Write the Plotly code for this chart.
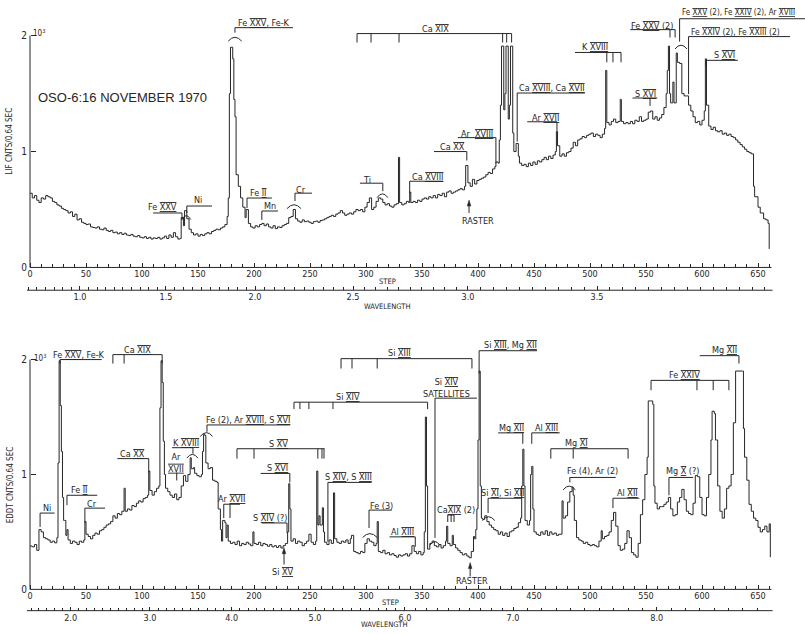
import plotly.graph_objects as go

# ---------------- spectra (scan step vs counts per 0.64 s) ----------------
LIF_STEP = [
    0, 2, 4, 6, 8, 10, 12, 14, 16, 18,
    20, 22, 24, 26, 28, 30, 32, 34, 36, 38,
    40, 42, 44, 46, 48, 50, 52, 54, 56, 58,
    60, 62, 64, 66, 68, 70, 72, 74, 76, 78,
    80, 82, 84, 86, 88, 90, 92, 94, 96, 98,
    100, 102, 104, 106, 108, 110, 112, 114, 116, 118,
    120, 122, 124, 126, 128, 130, 132, 134, 135, 137,
    138, 140, 142, 144, 146, 148, 150, 152, 154, 156,
    158, 160, 162, 164, 166, 168, 170, 172, 174, 176,
    177, 178, 179, 181, 182, 183, 184, 186, 188, 190,
    192, 193, 195, 197, 199, 201, 203, 205, 207, 209,
    211, 213, 215, 217, 219, 221, 223, 225, 227, 229,
    231, 233, 235, 237, 239, 241, 243, 245, 247, 249,
    251, 253, 255, 257, 259, 261, 263, 265, 267, 269,
    271, 273, 275, 277, 279, 281, 283, 285, 287, 289,
    291, 293, 295, 297, 299, 301, 303, 305, 307, 309,
    311, 313, 315, 317, 319, 321, 323, 325, 327, 329,
    330, 332, 334, 336, 338, 339, 340, 342, 344, 346,
    348, 350, 352, 354, 356, 358, 360, 362, 364, 366,
    368, 370, 372, 374, 376, 378, 380, 382, 384, 386,
    388, 389, 391, 393, 395, 397, 399, 401, 403, 405,
    407, 409, 411, 413, 415, 416, 418, 419, 420, 421,
    423, 424, 425, 427, 428, 429, 431, 432, 434, 436,
    437, 439, 441, 443, 445, 447, 449, 451, 453, 455,
    457, 459, 461, 463, 465, 467, 469, 470, 471, 473,
    475, 477, 479, 481, 483, 485, 487, 489, 491, 493,
    495, 497, 499, 501, 503, 505, 507, 509, 511, 513,
    514, 515, 517, 519, 521, 523, 525, 527, 528, 530,
    532, 534, 536, 538, 540, 542, 544, 546, 548, 550,
    552, 554, 556, 558, 560, 562, 564, 566, 568, 569,
    570, 571, 572, 574, 575, 577, 578, 580, 582, 584,
    586, 588, 590, 592, 594, 596, 598, 600, 602, 603,
    604, 606, 608, 610, 612, 614, 616, 618, 620, 622,
    624, 626, 628, 630, 632, 634, 636, 638, 640, 642,
    644, 646, 647, 650, 652, 655, 657, 659, 660,
]
LIF_CNTS = [
    640, 600, 620, 580, 560, 600, 590, 620, 610, 600,
    570, 560, 540, 530, 510, 500, 490, 470, 480, 440,
    460, 410, 420, 390, 380, 370, 375, 350, 345, 340,
    350, 330, 325, 340, 320, 310, 320, 300, 305, 290,
    300, 285, 295, 280, 275, 285, 270, 265, 275, 260,
    255, 265, 250, 260, 245, 255, 250, 260, 245, 255,
    270, 250, 280, 260, 300, 265, 245, 250, 430, 360,
    490, 420, 330, 300, 280, 290, 270, 285, 275, 290,
    300, 290, 310, 320, 330, 325, 340, 350, 370, 440,
    600, 1500, 1900, 1800, 1450, 1300, 800, 700, 600, 520,
    430, 500, 380, 350, 340, 360, 350, 370, 380, 360,
    375, 350, 340, 360, 335, 350, 345, 360, 370, 380,
    430, 440, 500, 420, 400, 390, 410, 395, 400, 390,
    380, 395, 400, 390, 405, 410, 420, 430, 440, 450,
    440, 460, 470, 490, 470, 450, 460, 470, 460, 480,
    500, 490, 500, 480, 520, 560, 600, 500, 520, 570,
    600, 590, 560, 540, 550, 530, 520, 540, 550, 950,
    560, 540, 550, 570, 560, 650, 560, 570, 560, 580,
    570, 590, 600, 590, 610, 600, 620, 600, 630, 620,
    640, 610, 650, 660, 640, 650, 660, 670, 680, 670,
    700, 880, 730, 700, 760, 720, 750, 760, 770, 780,
    800, 820, 810, 850, 870, 910, 900, 1100, 1400, 1910,
    1360, 1500, 1910, 1280, 1400, 1910, 1160, 1000, 1070, 960,
    900, 880, 890, 870, 900, 880, 910, 890, 920, 910,
    930, 950, 930, 960, 940, 970, 1000, 1175, 1050, 960,
    980, 960, 990, 1000, 1030, 1080, 1050, 1100, 1110, 1130,
    1120, 1140, 1150, 1160, 1130, 1150, 1140, 1120, 1150, 1200,
    1700, 1250, 1230, 1260, 1280, 1250, 1260, 1450, 1260, 1240,
    1250, 1240, 1260, 1240, 1270, 1260, 1300, 1260, 1270, 1280,
    1340, 1350, 1280, 1300, 1270, 1290, 1320, 1380, 1500, 1700,
    1910, 1500, 1420, 1600, 1420, 1850, 1770, 1760, 1500, 1480,
    1480, 1400, 1350, 1300, 1250, 1260, 1230, 1270, 1350, 1800,
    1400, 1220, 1190, 1210, 1180, 1170, 1180, 1150, 1160, 1140,
    1150, 1130, 1120, 1100, 1080, 1060, 1040, 1020, 1000, 990,
    980, 700, 610, 520, 470, 420, 410, 380, 160,
]

EDDT_STEP = [
    0, 2, 4, 6, 8, 10, 12, 14, 16, 18,
    20, 22, 24, 25, 26, 27, 28, 29, 30, 31,
    32, 33, 34, 36, 38, 40, 42, 44, 46, 48,
    49, 50, 52, 54, 56, 58, 60, 62, 64, 66,
    68, 70, 72, 74, 76, 78, 80, 82, 84, 85,
    87, 89, 91, 93, 95, 97, 99, 101, 103, 105,
    106, 107, 109, 111, 113, 115, 116, 117, 118, 119,
    120, 121, 123, 125, 127, 129, 131, 133, 135, 137,
    139, 141, 143, 144, 146, 147, 149, 151, 153, 154,
    155, 156, 157, 159, 161, 163, 165, 167, 168, 170,
    171, 172, 174, 175, 176, 177, 179, 181, 183, 185,
    187, 189, 191, 193, 195, 197, 199, 200, 202, 204,
    206, 208, 210, 212, 214, 216, 218, 220, 222, 224,
    226, 228, 230, 231, 232, 233, 235, 237, 239, 241,
    243, 245, 247, 249, 251, 253, 255, 256, 257, 258,
    259, 261, 262, 263, 265, 267, 269, 271, 272, 274,
    276, 278, 280, 282, 284, 286, 287, 289, 291, 293,
    295, 297, 299, 301, 303, 305, 307, 309, 310, 311,
    313, 315, 317, 319, 321, 323, 325, 327, 329, 331,
    333, 335, 337, 339, 341, 343, 345, 347, 349, 351,
    352, 353, 354, 355, 357, 359, 361, 363, 365, 367,
    369, 371, 372, 373, 375, 377, 378, 380, 382, 384,
    386, 388, 390, 392, 394, 396, 397, 398, 399, 400,
    401, 402, 403, 404, 406, 408, 410, 412, 414, 416,
    418, 420, 422, 424, 426, 428, 430, 432, 434, 436,
    438, 439, 440, 441, 442, 444, 446, 447, 448, 449,
    450, 452, 454, 456, 458, 460, 462, 464, 466, 468,
    470, 472, 474, 475, 476, 478, 480, 482, 484, 485,
    486, 488, 490, 492, 494, 496, 498, 500, 502, 504,
    506, 508, 510, 511, 513, 515, 517, 519, 521, 523,
    525, 527, 529, 531, 533, 535, 537, 539, 541, 543,
    545, 547, 549, 551, 552, 554, 556, 557, 558, 560,
    562, 564, 566, 568, 570, 572, 574, 576, 578, 580,
    582, 584, 586, 588, 590, 592, 594, 596, 598, 600,
    602, 604, 606, 608, 609, 611, 612, 614, 616, 618,
    620, 622, 624, 626, 628, 630, 636, 637, 638, 640,
    642, 644, 646, 648, 650, 652, 654, 656, 658, 660,
    661,
]
EDDT_CNTS = [
    377, 370, 390, 340, 520, 500, 450, 440, 430, 410,
    420, 405, 450, 1100, 1990, 1600, 1200, 800, 600, 600,
    470, 520, 430, 400, 420, 410, 390, 420, 410, 430,
    590, 480, 460, 440, 470, 490, 480, 510, 520, 540,
    560, 570, 590, 640, 620, 660, 650, 680, 880, 680,
    700, 690, 730, 720, 750, 770, 760, 790, 800, 820,
    1030, 860, 820, 850, 880, 900, 1580, 1990, 1800, 1290,
    1000, 880, 850, 820, 800, 830, 780, 800, 900, 990,
    940, 1000, 1145, 1050, 1060, 1010, 990, 980, 1000, 1200,
    1350, 1340, 1100, 1050, 1060, 950, 940, 930, 700, 520,
    420, 600, 580, 450, 560, 420, 400, 410, 390, 420,
    380, 400, 390, 410, 395, 380, 500, 400, 390, 410,
    380, 400, 390, 375, 390, 370, 380, 365, 380, 360,
    380, 400, 500, 920, 700, 420, 440, 400, 420, 410,
    380, 400, 420, 480, 410, 390, 420, 1030, 560, 640,
    560, 710, 500, 410, 390, 430, 400, 840, 440, 410,
    400, 420, 410, 430, 400, 440, 470, 330, 320, 310,
    330, 320, 400, 440, 420, 410, 380, 400, 590, 330,
    320, 340, 310, 320, 300, 310, 295, 280, 300, 290,
    300, 310, 290, 310, 380, 330, 310, 330, 300, 320,
    500, 1500, 900, 350, 400, 420, 380, 370, 390, 360,
    380, 420, 550, 400, 380, 470, 390, 360, 340, 320,
    300, 310, 290, 275, 330, 460, 440, 520, 700, 1300,
    1900, 900, 620, 610, 640, 590, 560, 540, 520, 510,
    480, 500, 470, 490, 460, 500, 510, 530, 540, 580,
    620, 900, 1220, 900, 600, 560, 600, 1000, 1070, 700,
    500, 480, 470, 500, 480, 510, 470, 500, 480, 490,
    470, 480, 480, 770, 620, 640, 760, 850, 890, 820,
    600, 450, 430, 420, 400, 410, 390, 380, 390, 380,
    370, 420, 510, 440, 460, 470, 500, 600, 670, 550,
    380, 340, 350, 400, 510, 450, 320, 300, 280, 400,
    650, 780, 1000, 1150, 1640, 1640, 1610, 900, 750, 700,
    720, 720, 740, 760, 800, 700, 640, 650, 760, 800,
    870, 780, 680, 660, 650, 750, 990, 980, 800, 650,
    640, 800, 1000, 1300, 1550, 1530, 1300, 900, 680, 620,
    700, 880, 900, 1000, 1450, 1900, 1900, 1400, 1150, 950,
    740, 680, 620, 600, 540, 500, 520, 550, 500, 570,
    280,
]

# ---------------- axis labelling ----------------
STEP_TICKS = list(range(0, 651, 50))
STEP_MINOR = [s for s in range(10, 661, 10) if s % 50]
CNT_TICKS = [0, 1000, 2000]
CNT_LABELS = ["0", "1", "2"]

LIF_WL = [1.0, 1.5, 2.0, 2.5, 3.0, 3.5]
LIF_WL_LABELS = ["1.0", "1.5", "2.0", "2.5", "3.0", "3.5"]
LIF_WL_STEPS = [44.6, 121.4, 200.9, 288.4, 391.0, 506.3]
EDDT_WL = [2.0, 3.0, 4.0, 5.0, 6.0, 7.0, 8.0]
EDDT_WL_LABELS = ["2.0", "3.0", "4.0", "5.0", "6.0", "7.0", "8.0"]
EDDT_WL_STEPS = [36.3, 107.1, 180.0, 254.5, 334.8, 431.3, 559.6]

# ---------------- line identifications ----------------
# (label, text step, text counts, bar (from, to, counts), ticks, brace, anchor[, font size])
LIF_IDS = [
    ("Fe [XXV], Fe-K", 209, 2112, (183, 234.8, 2069), [(183, 2026)], (177, 189, 1975), "center"),
    ("Fe [XXV]", 117.9, 521, (110, 135.7, 470), [(135.7, 410)], None, "center"),
    ("Ni", 150, 581, (140, 162.5, 530), [(140, 470)], (135.5, 143.5, 436), "center"),
    ("Fe [II]", 203.6, 641, (193.75, 216, 599), [(193.75, 513)], None, "center"),
    ("Mn", 214, 530, (207, 221.4, 487), [(207, 410)], None, "center"),
    ("Cr", 242, 667, (236.6, 251.8, 641), [(236.6, 573)], (229.5, 242, 530), "center"),
    ("Ti", 301, 752, (294.6, 315, 727), [(315, 658)], (309.8, 319.6, 624), "center"),
    ("Ca [XVIII]", 354.5, 778, (339, 368.75, 744), [(339, 641)], None, "center"),
    ("Ca [XX]", 377, 1043, (360.7, 390, 1000), [(390, 923)], None, "center"),
    ("Ar  [XVIII]", 399, 1154, (382, 416, 1120), [(416, 898)], None, "center"),
    ("Ca [XIX]", 362, 2061, (292, 430, 2018),
     [(292, 1941), (304.5, 1941), (329.5, 1941), (422, 1941), (425.6, 1941), (430, 1941)], None, "center"),
    ("Ca [XVIII], Ca [XVII]", 466, 1548, (435, 495.5, 1505), [(435, 1086)], None, "center"),
    ("Ar [XVII]", 460, 1291, (444, 470.5, 1257), [(470.5, 1180)], None, "center"),
    ("K [XVIII]", 504.5, 1898, (486.6, 527.7, 1855), [(515, 1770), (520.5, 1770), (527.7, 1770)], None, "center"),
    ("S [XVI]", 549.5, 1496, (538, 560, 1462), [(553.6, 1394)], None, "center"),
    ("Fe [XXV] (2)", 555, 2086, (536, 576, 2052), [(571.4, 1984), (576, 1984)], None, "center"),
    ("Fe [XXV] (2), Fe [XXIV] (2), Ar [XVIII]", 580.0, 2197, (580, 692, 2146), [(580, 1949)],
     (575.9, 586.6, 1907), "left", 8),
    ("Fe [XXIV] (2), Fe [XXIII] (2)", 630, 2035, (588, 678.6, 1992), [(588, 1496)], None, "center", 8.5),
    ("S [XVI]", 620.5, 1830, (603.6, 632, 1787), [(603.6, 1736)], None, "center"),
]

EDDT_IDS = [
    ("Ni", 15.6, 707, (9, 22, 664), [(9, 543)], None, "center"),
    ("Fe [XXV], Fe-K", 44, 2043, (26.8, 64, 2000), [(26.8, 1965)], None, "center"),
    ("Fe [II]", 44.4, 862, (33, 60, 819), [(33, 733)], None, "center"),
    ("Cr", 55.4, 741, (49, 67, 707), [(49, 578)], None, "center"),
    ("Ca [XIX]", 96, 2086, (74, 118, 2043), [(74, 1965), (84, 1965), (118, 1965)], None, "center"),
    ("Ca [XX]", 91.5, 1181, (78, 106, 1138), [(106, 1017)], None, "center"),
    ("Ar<br>[XVII]", 130, 1103, None, [(131, 1017, 948)], None, "center"),
    ("K [XVIII]", 139.7, 1276, (126.8, 145.5, 1233), [(145.5, 1181)], (140, 150, 1164), "center"),
    ("Fe (2), Ar [XVIII], S [XVI]", 195, 1474, (158, 232, 1431), [(158, 1371)], (152, 163, 1353), "center"),
    ("S [XV]", 222, 1267, (184.8, 263, 1224),
     [(184.8, 1138), (200, 1138), (257, 1138), (260.7, 1138), (262.5, 1138)], None, "center"),
    ("S [XVI]", 221, 1052, (206, 232, 1009), [(232, 931)], None, "center"),
    ("Ar [XVII]", 179.5, 784, (173, 187.5, 741), [(173, 621), (178.6, 621)], None, "center"),
    ("S [XIV] (?)", 214, 621, (207, 229.5, 578), [(229.5, 491)], None, "center"),
    ("Si [XIII]", 330, 2060, (277.7, 394.6, 2008),
     [(277.7, 1922), (287.5, 1922), (310, 1922), (394.6, 1922)], None, "center"),
    ("Si [XIV]", 284, 1672, (235.7, 355, 1629),
     [(235.7, 1569), (241, 1569), (249, 1569), (270.5, 1569), (355, 1569)], None, "center"),
    ("Si [XIV]<br>SATELLITES", 372, 1750, (361.6, 399, 1664), [(361.6, 448)], (357, 366, 405), "center"),
    ("Si [XIII], Mg [XII]", 428.6, 2129, (401, 452.7, 2077), [(401, 1879)], None, "center"),
    ("S [XIV], S [XIII]", 284.4, 974, (266, 305, 931), [(266, 414)], None, "center"),
    ("Fe (3)", 314, 724, (302.7, 323, 690), [(302.7, 534)], (297, 310, 474), "center"),
    ("Al [XIII]", 332.6, 500, (321, 344, 457), [(344, 371)], None, "center"),
    ("Ca[XIX] (2)", 380, 690, (373, 378.6, 647), [(373, 586), (376, 586), (378.6, 586)], None, "center"),
    ("Si [XI], Si [XII]", 422, 836, (409, 439, 793), [(409, 664)], (404, 415, 621), "center"),
    ("Mg [XII]", 429.5, 1405, (418, 440, 1362), [(440, 1267)], None, "center"),
    ("Al [XIII]", 461, 1405, (448, 473, 1362), [(448, 1267)], None, "center"),
    ("Mg [XI]", 488, 1276, (465, 534, 1224), [(465, 1138), (485, 1138), (534, 1138)], None, "center"),
    ("Fe (4), Ar (2)", 502, 1026, (482, 523, 974), [(482, 931)], (476, 487, 888), "center"),
    ("Al [XII]", 533.5, 836, (520.5, 544, 793), [(520.5, 707)], None, "center"),
    ("Fe [XXIV]", 584, 1862, (554.5, 624, 1819),
     [(554.5, 1733), (595.5, 1733), (610, 1733), (624, 1733)], None, "center"),
    ("Mg [X] (?)", 582.6, 1026, (570.5, 592, 974), [(570.5, 819)], None, "center"),
    ("Mg [XII]", 620, 2086, (598, 633, 2034), [(633, 1965)], None, "center"),
]

# arrows: (label, text step, text counts, arrow step, tail counts, tip counts)
LIF_ARROWS = [("RASTER", 400, 402, 392, 470, 581)]
EDDT_ARROWS = [("Si [XV]", 226, 147, 226.8, 216, 362),
               ("RASTER", 394.6, 69, 393, 112, 233)]

# ---------------- page geometry ----------------
W, H = 805, 634
X0_PX, PX_PER_STEP = 30.0, 1.12
TOP_ZERO_PX, TOP_PX_PER_CNT = 270.0, 0.117
BOT_ZERO_PX, BOT_PX_PER_CNT, BOT_TOP_PX = 595.0, 0.116, 335.0
TOP_WL_PX, BOT_WL_PX = 293.0, 616.5

INK = "#262626"
NARROW = "Liberation Sans Narrow, DejaVu Sans Condensed, Arial Narrow, sans-serif"

x_range = [-X0_PX / PX_PER_STEP, (W - X0_PX) / PX_PER_STEP]
top_yrange = [0, TOP_ZERO_PX / TOP_PX_PER_CNT]
bot_yrange = [0, (BOT_ZERO_PX - BOT_TOP_PX) / BOT_PX_PER_CNT]


def px_x(step):
    return (X0_PX + step * PX_PER_STEP) / W


def py_y(py):
    return 1 - py / H


def roman(text):
    return (text.replace("[", '<span style="text-decoration:underline overline">')
                .replace("]", "</span>"))


def wl_minor(lams, steps, dl, lo, hi):
    """Minor wavelength tick positions, piecewise-linear between labelled ticks."""
    out = []
    n = int(round((hi - lo) / dl))
    for i in range(n + 1):
        lam = lo + i * dl
        if any(abs(lam - m) < 1e-6 for m in lams):
            continue
        k = 0
        while k < len(lams) - 2 and lam > lams[k + 1]:
            k += 1
        s = steps[k] + (lam - lams[k]) * (steps[k + 1] - steps[k]) / (lams[k + 1] - lams[k])
        if -3 <= s <= 662:
            out.append(s)
    return out


fig = go.Figure()
fig.add_trace(go.Scatter(x=LIF_STEP, y=LIF_CNTS, mode="lines", line_shape="hv",
                         line=dict(color=INK, width=1), xaxis="x", yaxis="y",
                         showlegend=False, hoverinfo="skip"))
fig.add_trace(go.Scatter(x=EDDT_STEP, y=EDDT_CNTS, mode="lines", line_shape="hv",
                         line=dict(color=INK, width=1), xaxis="x2", yaxis="y2",
                         showlegend=False, hoverinfo="skip"))
# carriers for the wavelength scales
fig.add_trace(go.Scatter(x=[0], y=[0], mode="markers", marker=dict(opacity=0),
                         xaxis="x3", yaxis="y", showlegend=False, hoverinfo="skip"))
fig.add_trace(go.Scatter(x=[0], y=[0], mode="markers", marker=dict(opacity=0),
                         xaxis="x4", yaxis="y2", showlegend=False, hoverinfo="skip"))

tick_font = dict(family=NARROW, size=9, color=INK)


def step_axis(anchor):
    return dict(domain=[0, 1], range=x_range, anchor=anchor, showline=False,
                showgrid=False, zeroline=False, tickmode="array", tickvals=STEP_TICKS,
                ticks="inside", ticklen=4, tickwidth=1, tickcolor=INK, tickfont=tick_font,
                minor=dict(tickmode="array", tickvals=STEP_MINOR, ticks="inside",
                           ticklen=3, tickwidth=1, tickcolor=INK))


def wl_axis(over, pos, vals, labels, minor_vals):
    return dict(overlaying=over, anchor="free", position=pos, side="bottom",
                range=x_range, showline=False, showgrid=False, zeroline=False,
                tickmode="array", tickvals=vals, ticktext=labels, ticks="inside",
                ticklen=4, tickwidth=1, tickcolor=INK, tickfont=tick_font,
                minor=dict(tickmode="array", tickvals=minor_vals, ticks="inside",
                           ticklen=3, tickwidth=1, tickcolor=INK))


def cnt_axis(domain, rng):
    return dict(domain=domain, range=rng, anchor="free", position=X0_PX / W,
                showline=False, showgrid=False, zeroline=False, tickmode="array",
                tickvals=CNT_TICKS, ticktext=CNT_LABELS, ticks="inside", ticklen=5,
                tickwidth=1, tickcolor=INK, ticklabelstandoff=3,
                tickfont=dict(family=NARROW, size=10, color=INK))


fig.update_layout(
    width=W, height=H, autosize=False, margin=dict(l=0, r=0, t=0, b=0),
    paper_bgcolor="white", plot_bgcolor="white",
    xaxis=step_axis("y"),
    xaxis2=step_axis("y2"),
    xaxis3=wl_axis("x", py_y(TOP_WL_PX), LIF_WL_STEPS, LIF_WL_LABELS,
                   wl_minor(LIF_WL, LIF_WL_STEPS, 0.05, 0.70, 4.20)),
    xaxis4=wl_axis("x2", py_y(BOT_WL_PX), EDDT_WL_STEPS, EDDT_WL_LABELS,
                   wl_minor(EDDT_WL, EDDT_WL_STEPS, 0.1, 1.5, 8.9)),
    yaxis=cnt_axis([py_y(TOP_ZERO_PX), 1.0], top_yrange),
    yaxis2=cnt_axis([py_y(BOT_ZERO_PX), py_y(BOT_TOP_PX)], bot_yrange),
)

shapes = []
annos = []
line_style = dict(color=INK, width=1)

# axis lines
for zero_px, wl_px, cnt_scale in ((TOP_ZERO_PX, TOP_WL_PX, TOP_PX_PER_CNT),
                                  (BOT_ZERO_PX, BOT_WL_PX, BOT_PX_PER_CNT)):
    shapes.append(dict(type="line", xref="paper", yref="paper", x0=px_x(0), x1=px_x(662),
                       y0=py_y(zero_px), y1=py_y(zero_px), line=line_style))
    shapes.append(dict(type="line", xref="paper", yref="paper", x0=px_x(0), x1=px_x(0),
                       y0=py_y(zero_px), y1=py_y(zero_px - 2000 * cnt_scale), line=line_style))
    shapes.append(dict(type="line", xref="paper", yref="paper", x0=px_x(-2.7), x1=px_x(663),
                       y0=py_y(wl_px), y1=py_y(wl_px), line=line_style))


def add_ids(ids, xr, yr, brace_h):
    for item in ids:
        text, tx, ty, bar, ticks, brace, anchor = item[:7]
        size = item[7] if len(item) > 7 else 9
        annos.append(dict(x=tx, y=ty, xref=xr, yref=yr, text=roman(text), showarrow=False,
                          xanchor=anchor, yanchor="middle",
                          font=dict(family=NARROW, size=size, color=INK)))
        if bar is not None:
            s0, s1, v = bar
            shapes.append(dict(type="line", xref=xr, yref=yr, x0=s0, x1=s1, y0=v, y1=v,
                               line=line_style))
            for s, v_end in ticks:
                shapes.append(dict(type="line", xref=xr, yref=yr, x0=s, x1=s, y0=v, y1=v_end,
                                   line=line_style))
        else:
            for s, v0, v1 in ticks:
                shapes.append(dict(type="line", xref=xr, yref=yr, x0=s, x1=s, y0=v0, y1=v1,
                                   line=line_style))
        if brace is not None:
            b0, b1, bv = brace
            path = "M {},{} Q {},{} {},{}".format(b0, bv - brace_h, (b0 + b1) / 2,
                                                   bv + 2 * brace_h, b1, bv - brace_h)
            shapes.append(dict(type="path", xref=xr, yref=yr, path=path, line=line_style))


def add_arrows(arrows, xr, yr, px_per_cnt):
    head = 6 / px_per_cnt          # arrowhead length in counts
    half = 1.8 / PX_PER_STEP       # arrowhead half width in steps
    for text, tx, ty, s, tail, tip in arrows:
        annos.append(dict(x=tx, y=ty, xref=xr, yref=yr, text=roman(text), showarrow=False,
                          xanchor="center", yanchor="middle",
                          font=dict(family=NARROW, size=9, color=INK)))
        shapes.append(dict(type="line", xref=xr, yref=yr, x0=s, x1=s, y0=tail, y1=tip - head / 2,
                           line=line_style))
        path = "M {},{} L {},{} L {},{} Z".format(s - half, tip - head, s, tip, s + half, tip - head)
        shapes.append(dict(type="path", xref=xr, yref=yr, path=path, fillcolor=INK,
                           line=dict(color=INK, width=0.5)))


add_ids(LIF_IDS, "x", "y", 22)
add_ids(EDDT_IDS, "x2", "y2", 22)
add_arrows(LIF_ARROWS, "x", "y", TOP_PX_PER_CNT)
add_arrows(EDDT_ARROWS, "x2", "y2", BOT_PX_PER_CNT)

annos.append(dict(x=83, y=1470, xref="x", yref="y", text="OSO-6:16 NOVEMBER 1970",
                  showarrow=False, xanchor="center", yanchor="middle",
                  font=dict(family="Liberation Sans, Arial, sans-serif", size=13, color=INK)))

small = dict(family=NARROW, size=8, color=INK)
for text, x_px, y_px in (("LIF CNTS/0.64 SEC", 10, 143), ("EDDT CNTS/0.64 SEC", 10, 490)):
    annos.append(dict(x=x_px / W, y=py_y(y_px), xref="paper", yref="paper", text=text,
                      showarrow=False, textangle=-90, xanchor="center", yanchor="middle",
                      font=small))
for x_px, y_px in ((39, 33), (40, 361)):
    annos.append(dict(x=x_px / W, y=py_y(y_px), xref="paper", yref="paper",
                      text="10<sup>3</sup>", showarrow=False, xanchor="center", yanchor="middle",
                      font=dict(family=NARROW, size=8, color=INK)))
for text, x_px, y_px in (("STEP", 387, 284), ("WAVELENGTH", 387, 309),
                         ("STEP", 390, 608), ("WAVELENGTH", 384, 630)):
    annos.append(dict(x=x_px / W, y=py_y(y_px), xref="paper", yref="paper", text=text,
                      showarrow=False, xanchor="center", yanchor="middle",
                      font=dict(family=NARROW, size=7.5, color=INK)))

fig.update_layout(shapes=shapes, annotations=annos)
fig.write_html("out.html")
